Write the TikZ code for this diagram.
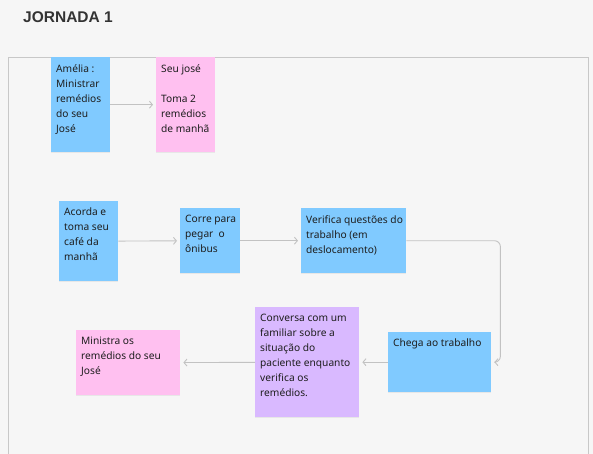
\documentclass[tikz,border=0pt]{standalone}
\usepackage{fontspec}
\setmainfont{Noto Sans}
\newfontfamily\titlefont{Liberation Sans}
\usepackage{tikz}
\usetikzlibrary{arrows.meta,shadows}

\definecolor{bgcol}{HTML}{F6F6F6}
\definecolor{framecol}{HTML}{C8C8C8}
\definecolor{stblue}{HTML}{80CAFF}
\definecolor{stpink}{HTML}{FFC0F0}
\definecolor{stlilac}{HTML}{D9B9FF}
\definecolor{inkcol}{HTML}{1E1E1E}
\definecolor{conncol}{HTML}{C2C2C2}

\begin{document}
\begin{tikzpicture}[
  x=1pt, y=-1pt,
  sticky/.style={anchor=north west, inner sep=0pt, fill=#1,
    drop shadow={shadow xshift=0pt, shadow yshift=-1pt, opacity=.12}},
  stxt/.style={anchor=north west, inner sep=0pt, xshift=5pt, yshift=-7pt,
    align=left, text=inkcol, font=\fontsize{10.2}{15}\selectfont},
  conn/.style={draw=conncol, line width=0.9pt, shorten >=3pt,
    -{Straight Barb[length=3pt,width=7pt]}}
]
\useasboundingbox[fill=bgcol] (0,0) rectangle (593,454);
\draw[framecol, line width=0.8pt] (8,470) -- (8,57) -- (588,57) -- (588,470);

\node[anchor=west, inner sep=0pt, text=black!80, font=\titlefont\fontsize{15.5}{18}\selectfont\bfseries] (title) at (23,17) {JORNADA 1};

% top pair
\node[sticky=stblue, minimum width=59, minimum height=95,
  label={[stxt]north west:{Amélia :\\Ministrar\\remédios\\do seu\\José}}] (amelia) at (51,57) {};
\node[sticky=stpink, minimum width=59, minimum height=95,
  label={[stxt]north west:{Seu josé\\[15pt]Toma 2\\remédios\\de manhã}}] (seujose) at (156,57) {};

% journey row 1
\node[sticky=stblue, minimum width=59, minimum height=80,
  label={[stxt]north west:{Acorda e\\toma seu\\café da\\manhã}}] (acorda) at (59,201) {};
\node[sticky=stblue, minimum width=60, minimum height=65,
  label={[stxt]north west:{Corre para\\pegar\ \ o\\ônibus}}] (corre) at (180,208) {};
\node[sticky=stblue, minimum width=105, minimum height=65,
  label={[stxt]north west:{Verifica questões do\\trabalho (em\\deslocamento)}}] (verifica) at (301,208) {};

% journey row 2
\node[sticky=stblue, minimum width=103, minimum height=60,
  label={[stxt]north west:{Chega ao trabalho}}] (chega) at (388,332) {};
\node[sticky=stlilac, minimum width=104, minimum height=110,
  label={[stxt]north west:{Conversa com um\\familiar sobre a\\situação do\\paciente enquanto\\verifica os\\remédios.}}] (conversa) at (255,307) {};
\node[sticky=stpink, minimum width=104, minimum height=65,
  label={[stxt]north west:{Ministra os\\remédios do seu\\José}}] (ministra) at (76,330) {};

% connectors
\draw[conn] (amelia) -- (seujose);
\draw[conn] (acorda) -- (corre);
\draw[conn] (corre) -- (verifica);
\draw[conn, rounded corners=6pt] (verifica.east) -- ++(94,0) |- (chega.east);
\draw[conn] (chega) -- (conversa);
\draw[conn] (conversa) -- (ministra);
\end{tikzpicture}
\end{document}
